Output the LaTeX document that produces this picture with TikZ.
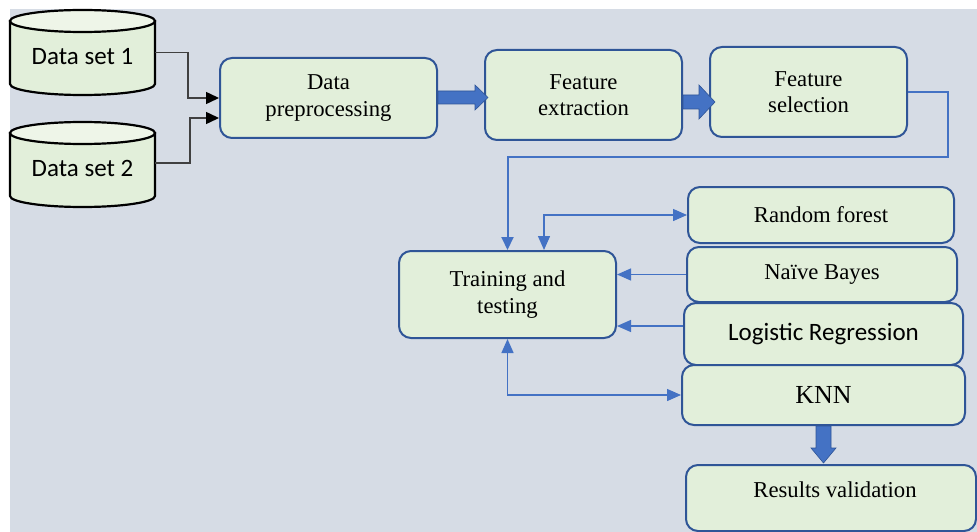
\documentclass[tikz,border=0pt]{standalone}
\usepackage{fontspec}
\setmainfont{Liberation Serif}
\newfontfamily\calfont{Carlito}
\usetikzlibrary{arrows.meta,calc}
\definecolor{bgc}{HTML}{D6DCE5}
\definecolor{boxfill}{HTML}{E2EFDA}
\definecolor{cyltop}{HTML}{EEF5E8}
\definecolor{boxline}{HTML}{2F5597}
\definecolor{ablue}{HTML}{4472C4}
\definecolor{dline}{HTML}{404040}
\newcommand\tmsfont{\fontsize{22.7}{26.5}\selectfont}
\newcommand\calfnt{\calfont\fontsize{25}{28}\selectfont}
\begin{document}
\begin{tikzpicture}[x=1pt,y=-1pt,
  box/.style={draw=boxline, line width=2pt, fill=boxfill, rounded corners=12pt,
    inner sep=0pt, align=center, font=\tmsfont},
  cylbox/.style={inner sep=0pt},
  blk/.style={-{Triangle[length=13pt,width=12pt,color=black]}, draw=dline, line width=1.5pt},
  bl/.style={-{Triangle[length=13pt,width=12pt]}, draw=ablue, line width=2pt},
  blt/.style={-{Triangle[length=14pt,width=12pt]}, draw=ablue, line width=1.4pt},
  bblt/.style={{Triangle[length=14pt,width=12pt]}-{Triangle[length=14pt,width=12pt]}, draw=ablue, line width=1.4pt},
  barrow/.style={fill=ablue, draw=boxline, line width=0.6pt}]
\useasboundingbox (0,0) rectangle (977,532);
\fill[white] (0,0) rectangle (977,532);
\fill[bgc] (10,9) rectangle (977,532);

% cylinders
\foreach \yy in {10,122}{
  \filldraw[fill=boxfill, draw=black, line width=2.2pt]
    (10,\yy+11) -- (10,\yy+74) arc[start angle=180, end angle=360, x radius=72.5pt, y radius=11pt]
    -- (155,\yy+11) -- cycle;
  \filldraw[fill=cyltop, draw=black, line width=2.2pt] (82.5,\yy+11) ellipse[x radius=72.5pt, y radius=11pt];
}
\node[cylbox, minimum width=145pt, minimum height=85pt] (ds1) at (82.5,52.5) {};
\node[cylbox, minimum width=145pt, minimum height=85pt] (ds2) at (82.5,164.5) {};
\node[font=\calfnt] (t1) at (82.5,57) {Data set 1};
\node[font=\calfnt] (t2) at (82.5,168) {Data set 2};

% boxes
\node[box, minimum width=217pt, minimum height=80pt] (prep) at (328.5,98) {Data\\preprocessing};
\node[box, minimum width=197pt, minimum height=90pt] (fext) at (583.5,95) {Feature\\extraction};
\node[box, minimum width=197pt, minimum height=90pt] (fsel) at (808.5,92) {Feature\\selection};
\node[box, minimum width=217pt, minimum height=87pt] (train) at (507.5,294.5) {Training and\\testing};
\node[box, minimum width=266pt, minimum height=56pt] (rf) at (821,215) {Random forest};
\node[box, minimum width=270pt, minimum height=55pt] (nb) at (822,274.5) {Naïve Bayes};
\node[box, minimum width=279pt, minimum height=62pt, font=\calfnt] (lr) at (823.5,334) {Logistic Regression};
\node[box, minimum width=283pt, minimum height=60pt, font=\fontsize{26}{30}\selectfont] (knn) at (823.5,395) {KNN};
\node[box, minimum width=290pt, minimum height=66pt] (res) at (831,498) {};
\node[font=\tmsfont] (rest) at (835,490) {Results validation};

% black connectors
\draw[blk] (ds1.east) -| (188,98) -- (prep.west |- 0,98);
\draw[blk] (ds2.east |- 0,163) -| (190,118) -- (prep.west |- 0,118);

% block arrows
\filldraw[barrow] (prep.east) ++(0,-7) -- ++(37,0) -- ++(0,-6) -- ++(13,12.5)
  -- ++(-13,12.5) -- ++(0,-6) -- ++(-37,0) -- cycle;
\filldraw[barrow] (fext.east) -- ++(16,0) -- ++(0,-10) -- ++(16,17) -- ++(-16,17)
  -- ++(0,-10) -- ++(-16,0) -- cycle;
\filldraw[barrow] (knn.south) ++(-7.5,0) -- ++(0,22) -- ++(-5,0) -- ++(12.5,15)
  -- ++(12.5,-15) -- ++(-5,0) -- ++(0,-22) -- cycle;

% blue connectors
\draw[bl] (fsel.east) -| (948,157) -| (train.north);
\draw[bblt] (train.north -| 544,0) |- (rf.west);
\draw[blt] (nb.west) -- (train.east |- nb.west);
\draw[blt] (lr.west |- 0,326) -- (train.east |- 0,326);
\draw[bblt] (train.south) |- (knn.west);
\end{tikzpicture}
\end{document}
